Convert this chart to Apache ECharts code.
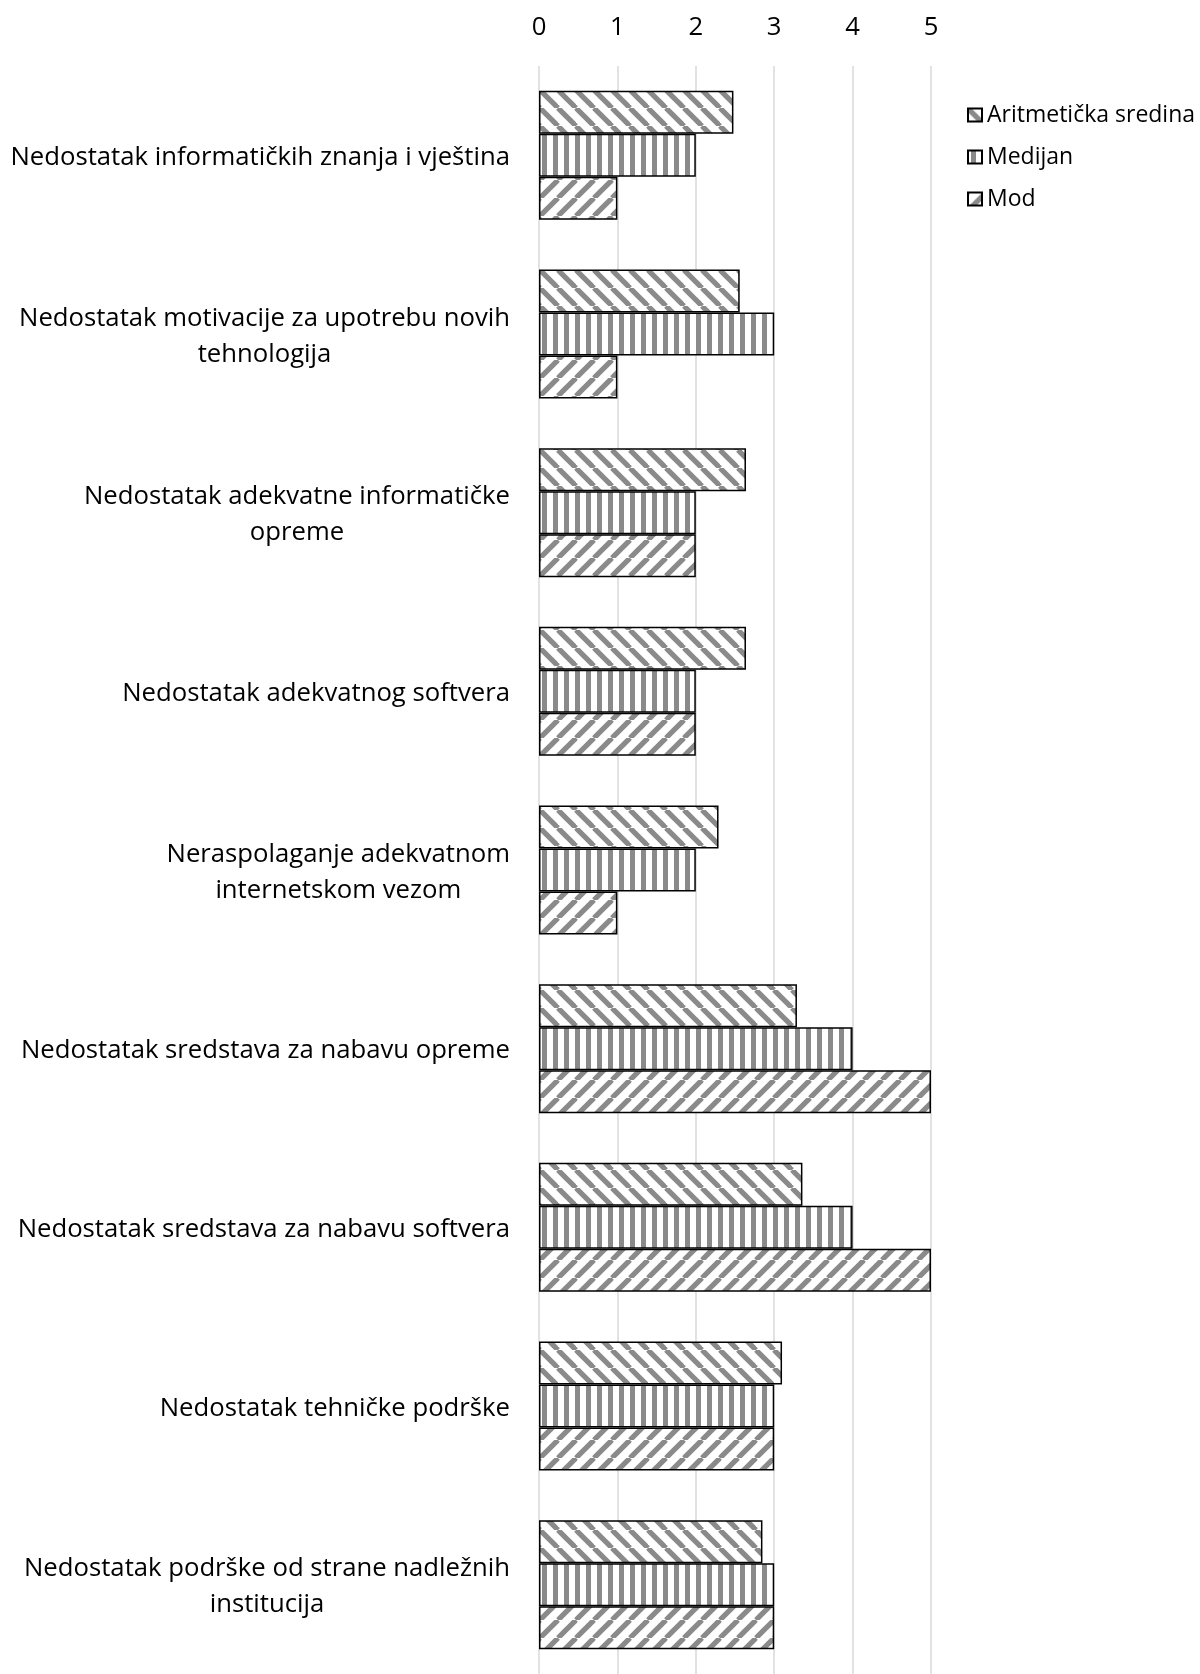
<!DOCTYPE html>
<html>
<head>
<meta charset="utf-8">
<script src="https://cdn.jsdelivr.net/npm/echarts@6/dist/echarts.min.js"></script>
<style>
html,body{margin:0;padding:0;background:#fff;}
#chart{width:1200px;height:1674px;}
</style>
</head>
<body>
<div id="chart"></div>
<script>
const categories = [
  'Nedostatak informatičkih znanja i vještina',
  'Nedostatak motivacije za upotrebu novih\ntehnologija',
  'Nedostatak adekvatne informatičke\nopreme',
  'Nedostatak adekvatnog softvera',
  'Neraspolaganje adekvatnom\ninternetskom vezom',
  'Nedostatak sredstava za nabavu opreme',
  'Nedostatak sredstava za nabavu softvera',
  'Nedostatak tehničke podrške',
  'Nedostatak podrške od strane nadležnih\ninstitucija'
];
const seriesNames = ['Aritmetička sredina', 'Medijan', 'Mod'];
const meanValues = [2.48, 2.56, 2.64, 2.64, 2.29, 3.29, 3.36, 3.10, 2.85];
const medianValues = [2, 3, 2, 2, 2, 4, 4, 3, 3];
const modeValues = [1, 1, 2, 2, 1, 5, 5, 3, 3];
const xTicks = [0, 1, 2, 3, 4, 5];

const FONT = 'Open Sans';
const FS = 25.7;

function diagPattern(dir) {
  const T = 18;
  const c = document.createElement('canvas');
  c.width = T; c.height = T;
  const g = c.getContext('2d');
  g.fillStyle = '#ffffff';
  g.fillRect(0, 0, T, T);
  g.strokeStyle = '#8a8a8a';
  g.lineWidth = 5.2;
  for (let k = -1; k <= 1; k++) {
    g.beginPath();
    if (dir === 'down') {
      g.moveTo(k * T, 0); g.lineTo(k * T + T, T);
    } else {
      g.moveTo(k * T, T); g.lineTo(k * T + T, 0);
    }
    g.stroke();
  }
  return c;
}
function vertPattern() {
  const W = 11, H = 11;
  const c = document.createElement('canvas');
  c.width = W; c.height = H;
  const g = c.getContext('2d');
  g.fillStyle = '#ffffff';
  g.fillRect(0, 0, W, H);
  g.fillStyle = '#8a8a8a';
  g.fillRect(3, 0, 5, H);
  return c;
}

const fills = [
  { image: diagPattern('down'), repeat: 'repeat' },
  { image: vertPattern(), repeat: 'repeat' },
  { image: diagPattern('up'), repeat: 'repeat' }
];
const dataSets = [meanValues, medianValues, modeValues];

const chart = echarts.init(document.getElementById('chart'), null, { renderer: 'canvas' });
chart.setOption({
  animation: false,
  backgroundColor: '#ffffff',
  textStyle: { fontFamily: FONT, color: '#000' },
  grid: { left: 539, right: 269, top: 66, height: 1613, containLabel: false },
  legend: {
    orient: 'vertical',
    left: 962,
    top: 97,
    itemWidth: 14,
    itemHeight: 13,
    itemGap: 16,
    icon: 'rect',
    data: seriesNames,
    textStyle: { fontFamily: FONT, fontSize: 23, color: '#000', lineHeight: 26 }
  },
  xAxis: {
    type: 'value',
    position: 'top',
    min: xTicks[0],
    max: xTicks[xTicks.length - 1],
    interval: 1,
    axisLine: { show: false },
    axisTick: { show: false },
    axisLabel: { fontFamily: FONT, fontSize: FS, color: '#000', margin: 25 },
    splitLine: { show: true, lineStyle: { color: '#d9d9d9', width: 1.5 } }
  },
  yAxis: {
    type: 'category',
    inverse: true,
    data: categories,
    axisLine: { show: false },
    axisTick: { show: false },
    splitLine: { show: false },
    axisLabel: {
      margin: 29,
      fontFamily: FONT,
      fontSize: FS,
      color: '#000',
      lineHeight: 36,
      padding: [5, 0, 0, 0],
      formatter: function (v) {
        return v.split('\n').map(function (l) { return '{c|' + l + '}'; }).join('\n');
      },
      rich: { c: { align: 'center', fontFamily: FONT, fontSize: FS, color: '#000', lineHeight: 36 } }
    }
  },
  series: seriesNames.map(function (name, i) {
    return {
      name: name,
      type: 'bar',
      data: dataSets[i],
      barWidth: 43,
      barGap: '0%',
      itemStyle: { color: fills[i], borderColor: '#000', borderWidth: 1.5 }
    };
  })
});
</script>
</body>
</html>
